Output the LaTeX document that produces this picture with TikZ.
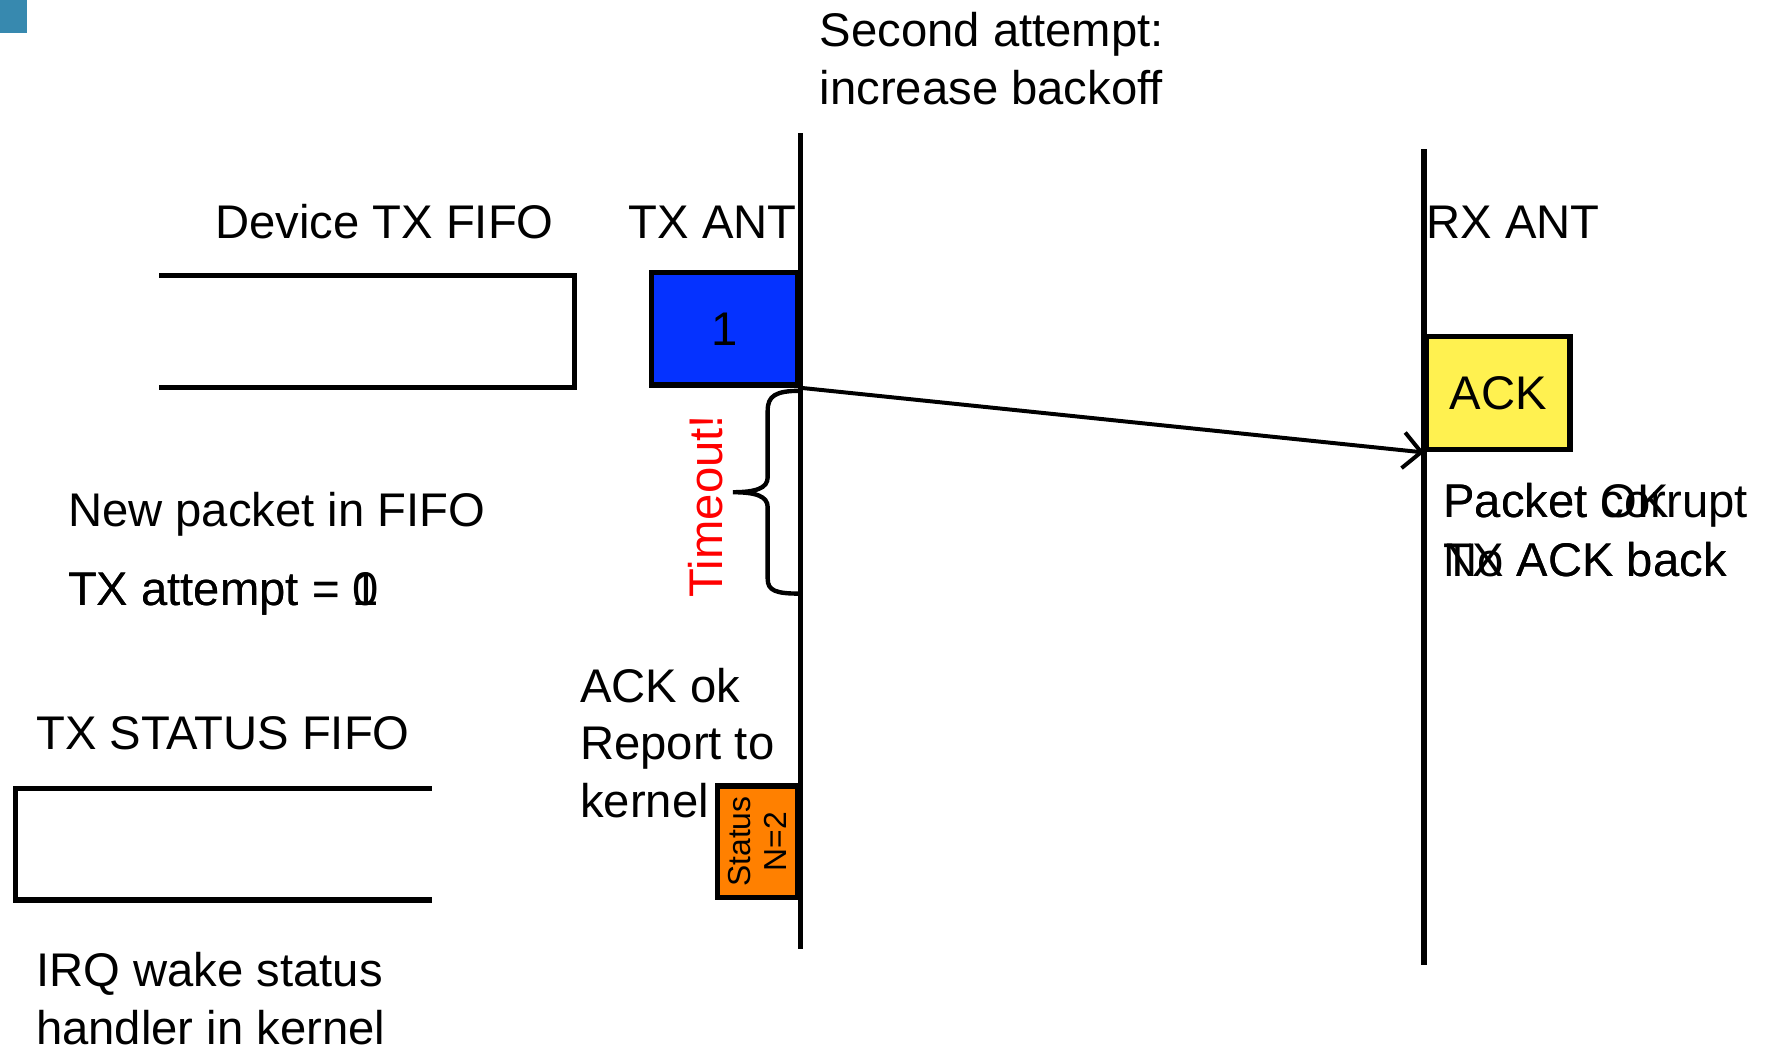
\documentclass[tikz,border=0pt]{standalone}
\usepackage{fontspec}
\setmainfont{Liberation Sans}
\usetikzlibrary{arrows.meta}

\definecolor{pktblue}{RGB}{5,50,255}
\definecolor{ackyellow}{RGB}{255,241,80}
\definecolor{statorange}{RGB}{255,128,0}
\definecolor{cornerblue}{RGB}{55,137,175}

\tikzset{
  txt/.style={anchor=base west, inner sep=0pt, align=left, font=\fontsize{23.75}{29}\selectfont},
  pkt/.style={draw, line width=2.7pt, inner sep=0pt, font=\fontsize{23.75}{29}\selectfont},
  lifeline/.style={line width=2.6pt},
}

\begin{document}
\begin{tikzpicture}[x=0.5pt,y=-0.5pt]
\useasboundingbox (0,0) rectangle (1785,1058);
\fill[cornerblue] (0,0) rectangle (27,33);

\draw[lifeline] (805,134)--(805,954);
\draw[lifeline] (1432,150)--(1432,970);

\draw[lifeline] (160,277)--(578,277)--(578,390)--(160,390);
\draw[lifeline] (434,793)--(16,793)--(16,905)--(434,905);

\node[pkt, fill=pktblue, minimum width=73.5pt, minimum height=56.5pt, anchor=south east] (pkt) at (805,390) {1};
\node[pkt, fill=ackyellow, minimum width=72pt, minimum height=57pt, anchor=south west] (ack) at (1432,455) {ACK};
\node[pkt, fill=statorange, minimum width=40.5pt, minimum height=56pt, anchor=south east] (stat) at (805,905) {};
\node[rotate=90, align=center, inner sep=0pt, font=\fontsize{16}{18}\selectfont] (statlbl) at (stat.center) {Status\\N=2};

\draw[line width=2pt, -{Straight Barb[length=9pt,width=18pt]}] (pkt.south east) -- (ack.south west);

% timeout brace
\draw[line width=2.2pt] (805,393) .. controls (780,393) and (772,398) .. (772,413) -- (772,480)
  .. controls (772,491) and (760,495) .. (737,495) .. controls (760,495) and (772,499) .. (772,510)
  -- (772,582) .. controls (772,594) and (780,597) .. (805,597);
\node[rotate=90, text=red, inner sep=0pt, font=\fontsize{23.75}{29}\selectfont] (tmo) at (710,509) {Timeout!};

\node[txt] (second) at (824,105) {Second attempt:\\increase backoff};
\node[txt] (devfifo) at (216,240) {Device TX FIFO};
\node[txt] (txant) at (632,240) {TX ANT};
\node[txt] (rxant) at (1434,240) {RX ANT};
\node[txt] (newpkt) at (68,529) {New packet in FIFO};
\node[txt] (try0) at (68,609) {TX attempt = 0};
\node[txt] (try1) at (68,609) {TX attempt = 1};
\node[txt] (statfifo) at (36,754) {TX STATUS FIFO};
\node[txt] (irq) at (36,1050) {IRQ wake status\\handler in kernel};
\node[txt] (ackok) at (583,822) {ACK ok\\Report to\\kernel};
\node[txt] (pktok) at (1451,520) {Packet OK};
\node[txt] (pktbad) at (1451,520) {Packet corrupt};
\node[txt] (txack) at (1451,580) {TX ACK back};
\node[txt] (noack) at (1451,580) {No ACK back};
\end{tikzpicture}
\end{document}
